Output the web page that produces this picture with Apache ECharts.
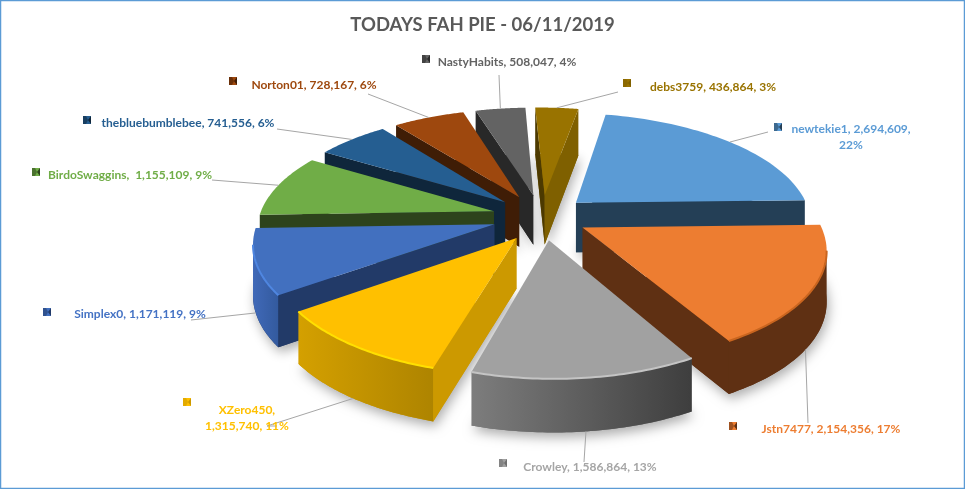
<!DOCTYPE html>
<html><head><meta charset="utf-8">
<style>html,body{margin:0;padding:0;background:#fff}#c{width:965px;height:489px}</style>
<script src="https://cdn.jsdelivr.net/npm/echarts@6/dist/echarts.min.js"></script>
</head><body><div id="c"></div>
<script>
const names = ['newtekie1','Jstn7477','Crowley','XZero450','Simplex0','BirdoSwaggins','thebluebumblebee','Norton01','NastyHabits','debs3759'];
const values = [2694609,2154356,1586864,1315740,1171119,1155109,741556,728167,508047,436864];
const percents = [22,17,13,11,9,9,6,6,4,3];
const titleText = 'TODAYS FAH PIE - 06/11/2019';

// Styles and layout
const topColors = ['#5B9BD5','#ED7D31','#A1A1A1','#FFC000','#4270BF','#70AD47','#255E91','#9E480E','#636363','#997300'];
const labelColors = ['#5B9BD5','#ED7D31','#A5A5A5','#FFC000','#4472C4','#70AD47','#255E91','#9E480E','#636363','#997300'];
const sideColors = ['#243F56','#5F3013','#6E6E6E','#CC9900','#223A68','#2D431C','#0F263B','#3F1D06','#282828','#7F6000'];
const wallFrom = ['#243F56','#5F3013','#7D7D7D','#D4A000','#4069B8','#2D431C','#0F263B','#3F1D06','#282828','#4D3A00'];
const wallTo = ['#243F56','#5F3013','#3E3E3E','#AE8400','#335A9E','#2D431C','#0F263B','#3F1D06','#282828','#4D3A00'];
const rimColors = ['#4F86BA','#C9651F','#C4C4C4','#FFE000','#4F86E0','#70AD47','#255E91','#9E480E','#636363','#997300'];
const labelCenter = [[851,137],[831,429],[590,467],[247,418],[140,314],[130,175],[188,123],[314,85],[507,62],[713,87]];
const leaderEnd = [[768,132],[808,423],[584,462],[267,426],[191,320],[212,180],[277,129],[368,94],[499,75],[618,92]];
const keyPos = [[778,127],[733,426],[503,463],[187,402],[47,312],[36,172],[87,120],[233,81],[426,59],[627,83]];
const sliceNudge = [[-2,0],[-3,-1],[1,0],[4,2],[0,0],[0,0],[0,0],[0,0],[0,0],[0,0]];
const leaderShift = [0,5,0,0,0,0,0,0,0,0];
const breakRule = {newtekie1:'pct', XZero450:'name'};
const geom = {cx:541.5, cy:217, A:235, B:108, k:0.16, D:50, kz:0.06, e:0.21, start:11, shear:3.5};

const total = values.reduce((a,b)=>a+b,0);
const fmt = n => n.toLocaleString('en-US');
function labelText(i){
  const n = names[i], v = fmt(values[i]), p = percents[i] + '%';
  if (breakRule[n]==='pct') return n + ', ' + v + ',\n' + p;
  if (breakRule[n]==='name') return n + ',\n' + v + ', ' + p;
  if (n==='BirdoSwaggins') return n + ',  ' + v + ', ' + p;
  return n + ', ' + v + ', ' + p;
}
const rad = d => d*Math.PI/180;
let acc = geom.start;
const slices = values.map((val,i)=>{
  const a0 = acc, a1 = acc + val/total*360; acc = a1;
  const mid = (a0+a1)/2;
  return {i, a0, a1, mid, ou:geom.e*Math.sin(rad(mid)), ov:-geom.e*Math.cos(rad(mid))};
});
function proj(s,u,v,z){
  const w = 1-geom.k*v;
  return [sliceNudge[s.i][0]+geom.cx+geom.shear*v+geom.A*u/w, sliceNudge[s.i][1]+geom.cy+geom.B*v/w + z*geom.D*(1+geom.kz*v)];
}
function rim(s,t,z){ return proj(s, Math.sin(rad(t))+s.ou, -Math.cos(rad(t))+s.ov, z); }
function arc(s,z){ const p=[]; const n=48; for(let j=0;j<=n;j++) p.push(rim(s,s.a0+(s.a1-s.a0)*j/n,z)); return p; }

function renderSlice(params, api){
  const s = slices[api.value(1)], i = s.i;
  const kids = [];
  const apT = proj(s,s.ou,s.ov,0), apB = proj(s,s.ou,s.ov,1);
  const topArc = arc(s,0), botArc = arc(s,1);
  // base silhouette carrying the soft drop shadow
  kids.push({type:'polygon',shape:{points:[apB].concat(botArc)},
    style:{fill:sideColors[i],shadowBlur:12,shadowColor:'rgba(0,0,0,0.32)',shadowOffsetY:5,shadowOffsetX:2}});
  // outer curved wall, front-facing part only
  const frontT=[],frontB=[];
  for(let j=0;j<topArc.length;j++){
    const prevLeft = j>0 && topArc[j][0]<topArc[j-1][0];
    const nextLeft = j<topArc.length-1 && topArc[j+1][0]<topArc[j][0];
    if(prevLeft||nextLeft){frontT.push(topArc[j]);frontB.push(botArc[j]);}
  }
  if(frontT.length>1){
    kids.push({type:'polygon',shape:{points:frontT.concat(frontB.slice().reverse())},
      style:{fill:{type:'linear',x:0,y:0,x2:1,y2:0,colorStops:[{offset:0,color:wallFrom[i]},{offset:1,color:wallTo[i]}]}}});
  }
  // flat side walls
  const r0T=topArc[0], r0B=botArc[0], r1T=topArc[topArc.length-1], r1B=botArc[botArc.length-1];
  if(r0T[0]<apT[0]) kids.push({type:'polygon',shape:{points:[apT,r0T,r0B,apB]},style:{fill:(i===9?'#4D3A00':sideColors[i])}});
  if(r1T[0]>apT[0]) kids.push({type:'polygon',shape:{points:[r1T,apT,apB,r1B]},style:{fill:sideColors[i]}});
  // top face
  kids.push({type:'polygon',shape:{points:[apT].concat(topArc)},style:{fill:topColors[i]}});
  // bevel along front rim
  if(frontT.length>1) kids.push({type:'polyline',shape:{points:frontT},style:{fill:null,stroke:rimColors[i],lineWidth:2}});
  return {type:'group',children:kids};
}
function renderLabel(params, api){
  const s = slices[api.value(1)], i = s.i;
  const front = Math.cos(rad(s.mid)) < 0 || (s.mid>240 && s.mid<270);
  const a = rim(s,s.mid+leaderShift[i],front?1:0);
  const e = leaderEnd[i], k = keyPos[i], c = labelCenter[i];
  const x0=k[0]-4, y0=k[1]-4, x1=k[0]+4, y1=k[1]+4, mx=k[0]+1, my=k[1];
  return {type:'group',children:[
    {type:'polyline',shape:{points:[a,e]},style:{fill:null,stroke:'#A6A6A6',lineWidth:1}},
    ...(i===3?[{type:'line',shape:{x1:267,y1:426,x2:277,y2:426},style:{stroke:'#A6A6A6',lineWidth:1}}]:[]),
    {type:'rect',shape:{x:x0,y:y0,width:8,height:8},style:{fill:topColors[i]}},
    {type:'polygon',shape:{points:[[x0,y0],[x0+3,y0],[mx,my],[x0+3,y1],[x0,y1]]},style:{fill:sideColors[i],opacity:0.55}},
    {type:'polygon',shape:{points:[[x1,y0],[x1,y1],[mx,my]]},style:{fill:sideColors[i]}},
    {type:'text',x:c[0],y:c[1],style:{text:labelText(i),fill:labelColors[i],align:'center',verticalAlign:'middle',
      font:'bold 12px Lato, "Open Sans", sans-serif',lineHeight:16}}
  ]};
}
const order = slices.slice().sort((a,b)=>(a.ov-b.ov)).map(s=>s.i);
const chart = echarts.init(document.getElementById('c'),null,{width:965,height:489});
chart.setOption({
  animation:false,
  backgroundColor:'#fff',
  title:{text:titleText,left:'center',top:11,
    textStyle:{color:'#595959',fontSize:18.5,fontWeight:'bold',fontFamily:'Lato, "Open Sans", sans-serif'}},
  graphic:[{type:'rect',z:100,shape:{x:0.5,y:0.5,width:964,height:488},style:{fill:null,stroke:'#5B9BD5',lineWidth:1.5}}],
  series:[
    {type:'custom',coordinateSystem:'none',renderItem:renderSlice,z:2,silent:true,
      data:order.map(i=>[values[i],i])},
    {type:'custom',coordinateSystem:'none',renderItem:renderLabel,z:3,silent:true,
      data:order.map(i=>[values[i],i])}
  ]
});
</script></body></html>
